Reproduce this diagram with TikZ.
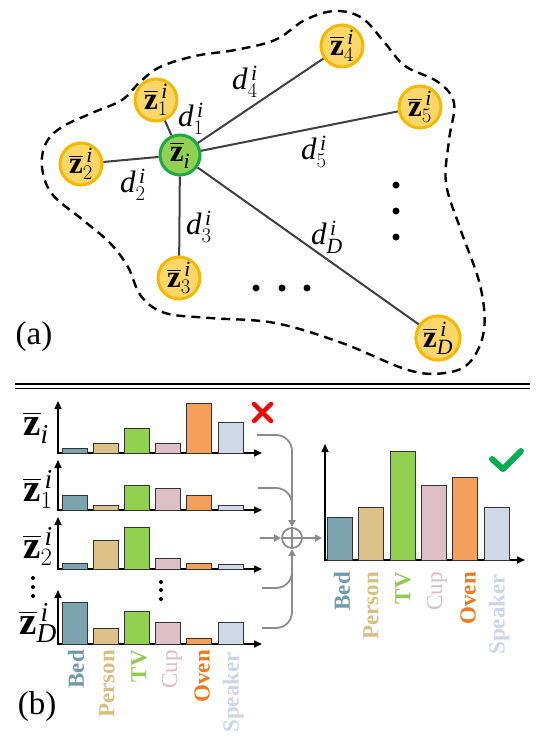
\documentclass[tikz,border=0pt]{standalone}
\usepackage{amsmath}
\usepackage{fontspec}
\setmainfont{Liberation Serif}
\usetikzlibrary{arrows.meta}
\definecolor{cBed}{HTML}{7BA3B0}
\definecolor{cPer}{HTML}{DCC189}
\definecolor{cTV}{HTML}{92D050}
\definecolor{cCup}{HTML}{DDBFC6}
\definecolor{cOven}{HTML}{F4A05A}
\definecolor{cSpk}{HTML}{D0D9E8}
\definecolor{tBed}{HTML}{6E9AAA}
\definecolor{tPer}{HTML}{D9BE82}
\definecolor{tTV}{HTML}{8FCB4C}
\definecolor{tCup}{HTML}{DDBBC4}
\definecolor{tOven}{HTML}{F07A1E}
\definecolor{tSpk}{HTML}{CDD6E6}
\definecolor{gring}{HTML}{F5B800}
\definecolor{gfill}{HTML}{FBD76A}
\definecolor{grring}{HTML}{1AA84A}
\definecolor{grfill}{HTML}{92D050}
\definecolor{edgec}{HTML}{404040}
\definecolor{connc}{HTML}{8C8C8C}
\definecolor{okgreen}{HTML}{00B050}
\newcommand\zlab[2]{$\overline{\mathbf{z}}^{\mkern3mu\mathit{#1}}_{#2}$}
\newcommand\dlab[1]{$\mathit{d}^{\mkern3mu\mathit{i}}_{#1}$}
\newcommand\histo[4]{%
  \foreach \h/\c [count=\k] in {#4} {
    \draw[bar,fill=\c] ({#1+(\k-1)*#3},#2) rectangle ++(25,-\h);
  }}
\begin{document}
\begin{tikzpicture}[x=1pt,y=-1pt,
  znode/.style={circle,draw=gring,fill=gfill,line width=3pt,minimum size=42pt,inner sep=0pt,font=\fontsize{31}{33}\selectfont},
  cnode/.style={circle,draw=grring,fill=grfill,line width=3pt,minimum size=40pt,inner sep=0pt,font=\fontsize{31}{33}\selectfont},
  edge/.style={draw=edgec,line width=2pt},
  dtext/.style={font=\fontsize{31}{33}\selectfont,inner sep=0pt},
  ztext/.style={font=\fontsize{39}{41}\selectfont,inner sep=0pt},
  bar/.style={draw=black!80,line width=0.8pt},
  axis/.style={black,line width=1.6pt,{Triangle[length=8pt,width=7pt]}-{Triangle[length=8pt,width=7pt]}},
  conn/.style={draw=connc,line width=1.8pt,rounded corners=16pt},
  carrow/.style={-{Triangle[length=7pt,width=7pt]}},
  cat/.style={rotate=90,anchor=east,inner sep=0pt,font=\fontsize{23}{24}\selectfont\bfseries},
  catr/.style={rotate=90,anchor=east,inner sep=0pt,font=\fontsize{23}{24}\selectfont},
  dotn/.style={circle,fill=black,inner sep=0pt,minimum size=7pt},
  sdot/.style={circle,fill=black,inner sep=0pt,minimum size=4pt}]
\useasboundingbox (0,0) rectangle (550,742);

% ---------- (a) ----------
\draw[black,line width=2.4pt,dash pattern=on 9pt off 6pt] plot[smooth cycle,tension=0.6] coordinates {
 (275,40) (235,50) (195,56) (160,67) (140,82) (122,100) (92,113) (62,127) (46,143) (42,167) (52,194) (83,220) (110,243) (128,267) (141,296) (165,313) (210,318) (275,323) (342,343) (408,370) (445,373) (470,362) (484,330) (480,285) (460,228) (446,183) (449,140) (454,103) (438,82) (405,66) (385,43) (362,18) (335,11) (305,20)};

\node[cnode] (c) at (180,155) {\zlab{}{\mathit{i}}};
\node[znode] (z1) at (156,100) {\zlab{i}{1}};
\node[znode] (z2) at (81,164) {\zlab{i}{2}};
\node[znode] (z3) at (179,278) {\zlab{i}{3}};
\node[znode] (z4) at (342,46) {\zlab{i}{4}};
\node[znode] (z5) at (420,107) {\zlab{i}{5}};
\node[znode] (zD) at (438,338) {\zlab{i}{\mathit{D}}};
\draw[edge] (c) -- (z1);
\draw[edge] (c) -- (z2);
\draw[edge] (c) -- (z3);
\draw[edge] (c) -- (z4);
\draw[edge] (c) -- (z5);
\draw[edge] (c) -- (zD);

\node[dtext] (d1) at (191,119) {\dlab{1}};
\node[dtext] (d2) at (133,185) {\dlab{2}};
\node[dtext] (d3) at (199,227) {\dlab{3}};
\node[dtext] (d4) at (245,82) {\dlab{4}};
\node[dtext] (d5) at (314,152) {\dlab{5}};
\node[dtext] (dD) at (327,237) {\dlab{\mathit{D}}};

\node[dotn] (h1) at (256,288) {};
\node[dotn] (h2) at (282,288) {};
\node[dotn] (h3) at (307,288) {};
\node[dotn] (v1) at (396,185) {};
\node[dotn] (v2) at (396,211) {};
\node[dotn] (v3) at (396,237) {};

\node[font=\fontsize{33}{35}\selectfont,inner sep=0pt] (la) at (34,337) {(a)};

% separator
\draw[black,line width=1.3pt] (15,384) -- (530,384);
\draw[black,line width=1.3pt] (15,388.5) -- (530,388.5);

% ---------- (b) ----------
\draw[axis] (58,401) -- (58,453) -- (262,453);
\histo{62}{453}{31.2}{5/cBed,10/cPer,25/cTV,10/cCup,50/cOven,31/cSpk}
\draw[axis] (58,460) -- (58,510) -- (262,510);
\histo{62}{510}{31.2}{15/cBed,5/cPer,25/cTV,22/cCup,15/cOven,5/cSpk}
\draw[axis] (58,517) -- (58,569) -- (262,569);
\histo{62}{569}{31.2}{6/cBed,29/cPer,42/cTV,11/cCup,6/cOven,5/cSpk}
\draw[axis] (58,590) -- (58,644) -- (262,644);
\histo{62}{644}{31.2}{42/cBed,16/cPer,33/cTV,22/cCup,6/cOven,22/cSpk}

\node[ztext] (lz) at (36,428) {\zlab{}{\mathit{i}}};
\node[ztext] (lz1) at (38,489) {\zlab{i}{1}};
\node[ztext] (lz2) at (38,546) {\zlab{i}{2}};
\node[ztext] (lzD) at (38,623) {\zlab{i}{\mathit{D}}};
\node[sdot] (ld1) at (33,578) {};
\node[sdot] (ld2) at (33,587) {};
\node[sdot] (ld3) at (33,596) {};
\node[sdot] (md1) at (161,582) {};
\node[sdot] (md2) at (161,590) {};
\node[sdot] (md3) at (161,599) {};

\node[cat,text=tBed] (lb1) at (76,650) {Bed};
\node[cat,text=tPer] (lb2) at (107,650) {Person};
\node[cat,text=tTV] (lb3) at (139,650) {TV};
\node[catr,text=tCup] (lb4) at (172,650) {Cup};
\node[cat,text=tOven] (lb5) at (202,650) {Oven};
\node[cat,text=tSpk] (lb6) at (233,652) {Speaker};

% red cross
\draw[red,line width=4.5pt,line cap=round] (254,404) -- (271,421);
\draw[red,line width=4.5pt,line cap=round] (271,404) -- (254,421);

% fusion
\node[circle,draw=connc,line width=1.8pt,minimum size=20pt,inner sep=0pt,
  path picture={\draw[connc,line width=1.8pt] (path picture bounding box.north) -- (path picture bounding box.south)
  (path picture bounding box.west) -- (path picture bounding box.east);}] (fuse) at (292,538) {};
\coordinate (i1) at (257,435);
\coordinate (i2) at (258,488);
\coordinate (i3) at (260,538);
\coordinate (i4) at (262,588);
\coordinate (i5) at (262,628);
\coordinate (o1) at (322,538);
\draw[conn,carrow] (i1) -| (fuse.north);
\draw[conn] (i2) -| (292,512);
\draw[conn,carrow] (i3) -- (fuse.west);
\draw[conn,carrow] (i5) -| (fuse.south);
\draw[conn] (i4) -| (292,565);
\draw[conn,carrow] (fuse.east) -- (o1);

% right chart
\draw[axis] (325,444) -- (325,560) -- (525,560);
\histo{327.5}{560}{31.3}{43/cBed,53/cPer,109/cTV,75/cCup,83/cOven,53/cSpk}
\node[cat,text=tBed] (rb1) at (342,572) {Bed};
\node[cat,text=tPer] (rb2) at (371,572) {Person};
\node[cat,text=tTV] (rb3) at (403,572) {TV};
\node[catr,text=tCup] (rb4) at (437,572) {Cup};
\node[cat,text=tOven] (rb5) at (468,572) {Oven};
\node[cat,text=tSpk] (rb6) at (499,574) {Speaker};

% green check
\draw[okgreen,line width=6pt,line cap=round,line join=round] (492,459) -- (503,469) -- (521,451);

\node[font=\fontsize{33}{35}\selectfont,inner sep=0pt] (lbb) at (37,707) {(b)};
\end{tikzpicture}
\end{document}
